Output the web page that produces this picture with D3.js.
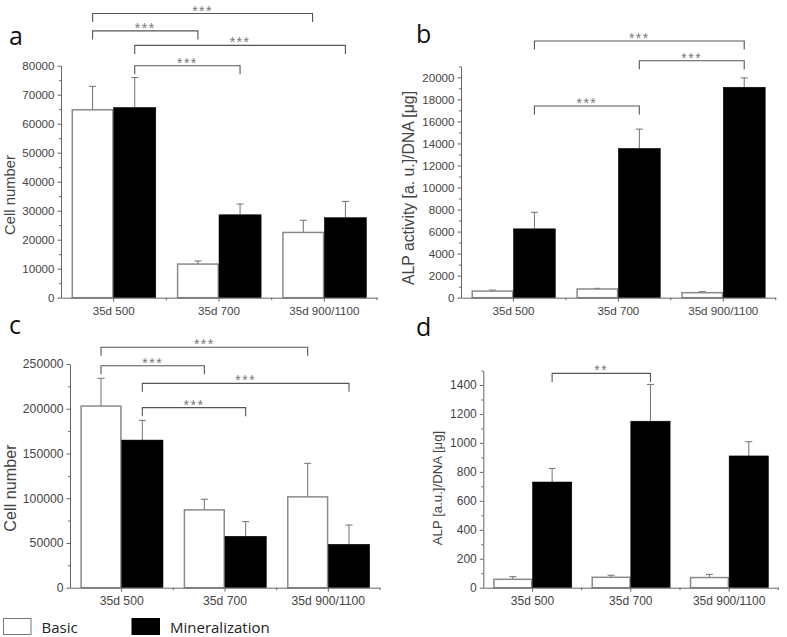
<!DOCTYPE html>
<html><head><meta charset="utf-8">
<script src="https://cdn.jsdelivr.net/npm/d3@7/dist/d3.min.js"></script>
<style>body{margin:0;background:#fff}svg{display:block}</style>
</head><body>
<svg id="chart" width="787" height="637"></svg>
<script>
// ---------------- DATA ----------------
const categories = ["35d 500", "35d 700", "35d 900/1100"];
const series = ["Basic", "Mineralization"];

const aBasic = [64800, 11600, 22500];
const aBasicErr = [8100, 1050, 4200];
const aMin = [65600, 28600, 27600];
const aMinErr = [10300, 3700, 5600];

const bBasic = [600, 790, 455];
const bBasicErr = [90, 60, 90];
const bMin = [6250, 13550, 19100];
const bMinErr = [1500, 1750, 850];

const cBasic = [203000, 87000, 101500];
const cBasicErr = [31000, 11800, 37500];
const cMin = [165000, 57500, 48500];
const cMinErr = [22000, 16300, 21500];

const dBasic = [58, 72, 70];
const dBasicErr = [18, 14, 22];
const dMin = [730, 1150, 910];
const dMinErr = [94, 254, 98];

const aTicks = [0, 10000, 20000, 30000, 40000, 50000, 60000, 70000, 80000];
const bTicks = [0, 2000, 4000, 6000, 8000, 10000, 12000, 14000, 16000, 18000, 20000];
const cTicks = [0, 50000, 100000, 150000, 200000, 250000];
const dTicks = [0, 200, 400, 600, 800, 1000, 1200, 1400];

// significance brackets: [category, series index] ends, bracket height in data units
const aSig = [
  {from: [0, 0], to: [2, 0.22], level: 98000, label: "***"},
  {from: [0, 0], to: [1, 0], level: 92000, label: "***"},
  {from: [0, 1], to: [2, 1], level: 87000, label: "***"},
  {from: [0, 1], to: [1, 1], level: 80000, label: "***"}
];
const bSig = [
  {from: [0, 1], to: [2, 1], level: 23300, label: "***"},
  {from: [1, 1], to: [2, 1], level: 21500, label: "***"},
  {from: [0, 1], to: [1, 1], level: 17400, label: "***"}
];
const cSig = [
  {from: [0, 0], to: [2, 0], level: 268700, label: "***"},
  {from: [0, 0], to: [1, 0], level: 248100, label: "***"},
  {from: [0, 1], to: [2, 1], level: 228400, label: "***"},
  {from: [0, 1], to: [1, 1], level: 201200, label: "***"}
];
const dSig = [
  {from: [0, 1], to: [1, 1], level: 1480, label: "**"}
];

// ---------------- LAYOUT ----------------
const panels = [
  {id: "a", basic: aBasic, basicErr: aBasicErr, min: aMin, minErr: aMinErr, ticks: aTicks, minorStep: 5000, axisMax: 80000,
   sig: aSig, ylabel: "Cell number",
   x0: 61, x1: 377, y0: 297.7, yTop: 65.7, tickFont: 11.6, labelFont: 14.8, labelX: 10, labelY: 195,
   letterX: 9, letterY: 45},
  {id: "b", basic: bBasic, basicErr: bBasicErr, min: bMin, minErr: bMinErr, ticks: bTicks, minorStep: 1000, axisMax: 21000,
   sig: bSig, ylabel: "ALP activity [a. u.]/DNA [\u03bcg]",
   x0: 461, x1: 775.7, y0: 297.7, yTop: 66.3, tickFont: 11.6, labelFont: 15.8, labelX: 408, labelY: 188,
   letterX: 416, letterY: 43},
  {id: "c", basic: cBasic, basicErr: cBasicErr, min: cMin, minErr: cMinErr, ticks: cTicks, minorStep: 25000, axisMax: 250000,
   sig: cSig, ylabel: "Cell number",
   x0: 70, x1: 380, y0: 587.7, yTop: 364, tickFont: 12.2, labelFont: 16.2, labelX: 10, labelY: 488,
   letterX: 9, letterY: 334},
  {id: "d", basic: dBasic, basicErr: dBasicErr, min: dMin, minErr: dMinErr, ticks: dTicks, minorStep: 100, axisMax: 1500,
   sig: dSig, ylabel: "ALP [a.u.]/DNA [\u03bcg]",
   x0: 483.3, x1: 778.3, y0: 587.7, yTop: 370.5, tickFont: 12, labelFont: 13.2, labelX: 437, labelY: 488,
   letterX: 416, letterY: 336}
];

const AXIS = "#666", TEXT = "#444", EDGE = "#8a8a8a";
const tickFamily = "Liberation Sans";
const uiFamily = "Open Sans";

const svg = d3.select("#chart");

panels.forEach(p => {
  const g = svg.append("g");
  const x = d3.scaleBand().domain(categories).range([p.x0, p.x1]).paddingInner(0).paddingOuter(0);
  const pad = x.bandwidth() * 0.1;
  const xs = d3.scaleBand().domain(series).range([pad, x.bandwidth() - pad]);
  const y = d3.scaleLinear().domain([0, p.axisMax]).range([p.y0, p.yTop]);
  const bw = xs.bandwidth();
  const xAt = (c, s) => x(categories[c]) + xs(series[0]) + s * bw + bw / 2;

  const rows = [];
  categories.forEach((c, i) => {
    rows.push({c, s: series[0], v: p.basic[i], e: p.basicErr[i]});
    rows.push({c, s: series[1], v: p.min[i], e: p.minErr[i]});
  });

  // error bars (drawn behind bars)
  const eg = g.append("g").attr("stroke", "#707070").attr("stroke-width", 1);
  rows.forEach(r => {
    const cx = x(r.c) + xs(r.s) + bw / 2;
    eg.append("line").attr("x1", cx).attr("x2", cx).attr("y1", y(r.v)).attr("y2", y(r.v + r.e));
    eg.append("line").attr("x1", cx - 3.5).attr("x2", cx + 3.5).attr("y1", y(r.v + r.e)).attr("y2", y(r.v + r.e));
  });

  // bars
  g.append("g").selectAll("rect").data(rows).join("rect")
    .attr("x", d => x(d.c) + xs(d.s) + (d.s === series[0] ? 0.75 : 0))
    .attr("width", d => bw - (d.s === series[0] ? 1.5 : 0))
    .attr("y", d => y(d.v))
    .attr("height", d => y(0) - y(d.v))
    .attr("fill", d => d.s === series[0] ? "#fff" : "#000")
    .attr("stroke", d => d.s === series[0] ? EDGE : "#000")
    .attr("stroke-width", d => d.s === series[0] ? 1.5 : 0.5);

  // y axis
  const minorVals = d3.range(0, p.axisMax + 1e-9, p.minorStep).filter(v => !p.ticks.includes(v));
  const yMinor = g.append("g").attr("transform", `translate(${p.x0},0)`)
    .call(d3.axisLeft(y).tickValues(minorVals).tickSize(2).tickFormat(""));
  yMinor.select(".domain").remove();
  yMinor.selectAll("line").attr("stroke", AXIS);
  const yAx = g.append("g").attr("transform", `translate(${p.x0},0)`)
    .call(d3.axisLeft(y).tickValues(p.ticks).tickSize(3.5).tickSizeOuter(0).tickPadding(3).tickFormat(d3.format("d")));
  yAx.attr("font-family", tickFamily);
  yAx.select(".domain").attr("stroke", AXIS);
  yAx.selectAll(".tick line").attr("stroke", AXIS);
  yAx.selectAll("text").attr("fill", TEXT).attr("font-family", tickFamily).attr("font-size", p.tickFont);

  // x axis
  const xAx = g.append("g").attr("transform", `translate(0,${p.y0})`)
    .call(d3.axisBottom(x).tickSize(4).tickSizeOuter(0).tickPadding(5));
  xAx.attr("font-family", tickFamily);
  xAx.select(".domain").attr("stroke", AXIS);
  xAx.selectAll(".tick line").attr("stroke", AXIS);
  xAx.selectAll("text").attr("fill", TEXT).attr("font-family", tickFamily).attr("font-size", p.tickFont);
  const bounds = categories.map(c => x(c)).concat([x.range()[1]]).slice(1);
  xAx.selectAll(".mtick").data(bounds).join("line").attr("class", "mtick")
    .attr("x1", d => d).attr("x2", d => d).attr("y1", 0).attr("y2", 2.5).attr("stroke", AXIS);

  // y label
  g.append("text")
    .attr("transform", `translate(${p.labelX},${p.labelY}) rotate(-90)`)
    .attr("text-anchor", "middle").attr("dominant-baseline", "central")
    .attr("fill", TEXT).attr("font-family", tickFamily).attr("font-size", p.labelFont)
    .text(p.ylabel);

  // panel letter
  g.append("text").attr("x", p.letterX).attr("y", p.letterY)
    .attr("fill", "#111").attr("font-family", uiFamily).attr("font-size", 25)
    .text(p.id);

  // significance brackets
  const sg = g.append("g");
  p.sig.forEach(s => {
    const xa = xAt(s.from[0], s.from[1]);
    const xb = xAt(s.to[0], s.to[1]);
    const ly = y(s.level);
    sg.append("path")
      .attr("d", `M${xa},${ly + 8.5}V${ly}H${xb}V${ly + 8.5}`)
      .attr("fill", "none").attr("stroke", "#555").attr("stroke-width", 1.1);
    sg.append("text").attr("x", (xa + xb) / 2).attr("y", ly + 2)
      .attr("text-anchor", "middle")
      .attr("fill", "#777").attr("font-family", tickFamily).attr("font-size", 14)
      .attr("letter-spacing", 1.5)
      .text(s.label);
  });
});

// legend
const legend = svg.append("g");
const legendPos = [{x: 3.5, tx: 41.5}, {x: 132, tx: 170}];
series.forEach((s, i) => {
  legend.append("rect").attr("x", legendPos[i].x).attr("y", 618.5).attr("width", 27.5).attr("height", 16)
    .attr("fill", i === 0 ? "#fff" : "#000").attr("stroke", i === 0 ? "#777" : "#000").attr("stroke-width", 1);
  legend.append("text").attr("x", legendPos[i].tx).attr("y", 633)
    .attr("fill", "#222").attr("font-family", uiFamily).attr("font-size", 15)
    .text(s);
});
</script>
</body></html>
